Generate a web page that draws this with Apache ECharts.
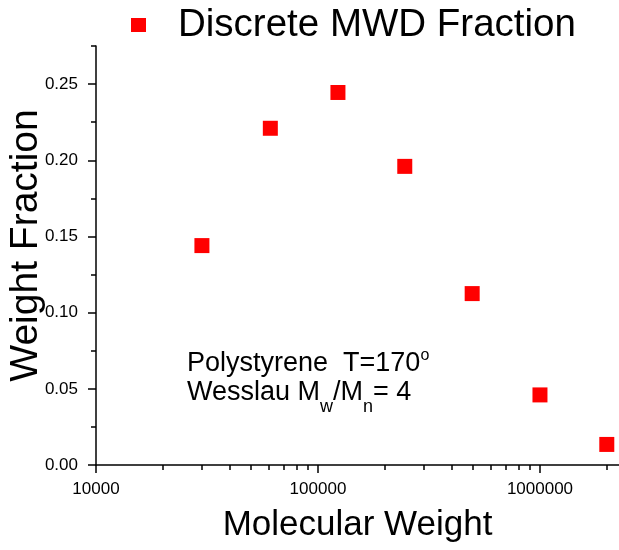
<!DOCTYPE html>
<html><head><meta charset="utf-8">
<script src="https://cdn.jsdelivr.net/npm/echarts@6/dist/echarts.min.js"></script>
<style>html,body{margin:0;padding:0;background:#fff}#c{width:619px;height:550px}</style>
</head><body><div id="c"></div>
<script>
const seriesName = 'Discrete MWD Fraction';
const molecularWeight = [30000, 61000, 123000, 246000, 495000, 1000000, 2000000];
const weightFraction = [0.144, 0.221, 0.2445, 0.196, 0.1125, 0.046, 0.0135];
const xMajorTicks = [10000, 100000, 1000000];
const xMinorTicks = [20000, 30000, 40000, 50000, 60000, 70000, 80000, 90000,
  200000, 300000, 400000, 500000, 600000, 700000, 800000, 900000, 2000000];
const yMajorTicks = [0, 0.05, 0.10, 0.15, 0.20, 0.25];
const yMinorTicks = [0.025, 0.075, 0.125, 0.175, 0.225, 0.275];
const annotationLine1 = 'Polystyrene  T=170{sup|o}';
const annotationLine2 = 'Wesslau M{sub|w}/M{sub|n}= 4';

const FONT = '"Liberation Sans", Arial, sans-serif';
const axisLineStyle = { color: '#000', width: 1.5 };
const xMin = 10000, xMax = 2270000, yMin = 0, yMax = 0.275;

const chart = echarts.init(document.getElementById('c'), null, { renderer: 'canvas' });
chart.setOption({
  backgroundColor: '#fff',
  animation: false,
  grid: { left: 96, right: 0, top: 46, bottom: 85, containLabel: false, outerBoundsMode: 'none' },
  legend: {
    data: [seriesName],
    left: 131, top: 5, padding: 0,
    icon: 'rect', itemWidth: 15, itemHeight: 14,
    selectedMode: false,
    textStyle: { fontSize: 38.5, color: '#000', fontFamily: FONT, padding: [0, 0, 0, 27], lineHeight: 40 }
  },
  xAxis: [
    {
      type: 'log', logBase: 10, min: xMin, max: xMax, position: 'bottom',
      axisLine: { show: true, lineStyle: axisLineStyle },
      axisTick: { show: true, length: 8, customValues: xMajorTicks, lineStyle: axisLineStyle },
      axisLabel: { customValues: xMajorTicks, formatter: v => String(Math.round(v)), fontSize: 17, margin: 16, color: '#000', fontFamily: FONT },
      splitLine: { show: false },
      name: 'Molecular Weight', nameLocation: 'middle', nameGap: 43, nameMoveOverlap: false,
      nameTextStyle: { fontSize: 35, color: '#000', fontFamily: FONT }
    },
    {
      type: 'log', logBase: 10, min: xMin, max: xMax, position: 'bottom',
      axisLine: { show: false },
      axisTick: { show: true, length: 5, customValues: xMinorTicks, lineStyle: axisLineStyle },
      axisLabel: { show: false },
      splitLine: { show: false }
    }
  ],
  yAxis: [
    {
      type: 'value', min: yMin, max: yMax, position: 'left',
      axisLine: { show: true, onZero: false, lineStyle: axisLineStyle },
      axisTick: { show: true, length: 8, customValues: yMajorTicks, lineStyle: axisLineStyle },
      axisLabel: { customValues: yMajorTicks, formatter: v => v.toFixed(2), fontSize: 17, margin: 18, color: '#000', fontFamily: FONT },
      splitLine: { show: false },
      name: 'Weight Fraction', nameLocation: 'middle', nameGap: 50, nameMoveOverlap: false,
      nameTextStyle: { fontSize: 39, color: '#000', fontFamily: FONT, padding: [0, 0, 0, 20] }
    },
    {
      type: 'value', min: yMin, max: yMax, position: 'left',
      axisLine: { show: false, onZero: false },
      axisTick: { show: true, length: 5, customValues: yMinorTicks, lineStyle: axisLineStyle },
      axisLabel: { show: false },
      splitLine: { show: false }
    }
  ],
  series: [{
    name: seriesName,
    type: 'scatter',
    xAxisIndex: 0, yAxisIndex: 0,
    symbol: 'rect', symbolSize: 15,
    itemStyle: { color: '#ff0000', opacity: 1 },
    data: molecularWeight.map((x, i) => [x, weightFraction[i]])
  }],
  graphic: [
    {
      type: 'text', left: 187, top: 348,
      style: {
        text: annotationLine1, fill: '#000', fontSize: 27, lineHeight: 31, fontFamily: FONT,
        rich: { sup: { fontSize: 16, lineHeight: 16, verticalAlign: 'top', fill: '#000', fontFamily: FONT } }
      }
    },
    {
      type: 'text', left: 187, top: 370,
      style: {
        text: annotationLine2, fill: '#000', fontSize: 27, lineHeight: 46, fontFamily: FONT,
        rich: { sub: { fontSize: 18, lineHeight: 18, verticalAlign: 'bottom', fill: '#000', fontFamily: FONT } }
      }
    }
  ]
});
</script>
</body></html>
